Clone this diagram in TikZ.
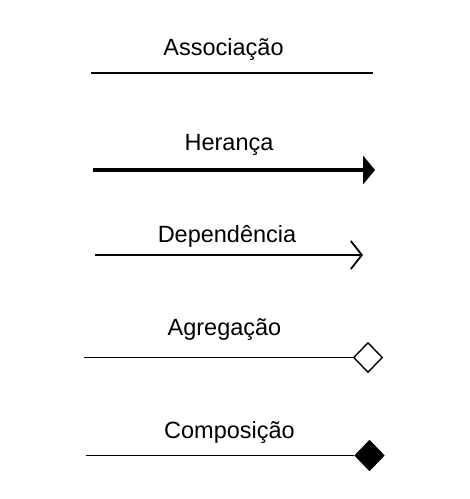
\documentclass[tikz,border=0pt]{standalone}
\usepackage{fontspec}
\setmainfont{Liberation Sans}
\usetikzlibrary{arrows.meta,shapes.geometric}

\begin{document}
\begin{tikzpicture}[x=1pt, y=-1pt]
    \tikzstyle{rotulo}=[anchor=base, font=\fontsize{23.5}{28}\selectfont]
    \tikzstyle{linha}=[line width=1.8pt]
    \tikzstyle{losango}=[diamond, draw, line width=1.4pt, inner sep=0pt, minimum width=29pt, minimum height=30pt]

    \useasboundingbox (0,0) rectangle (470,499);

    % Rótulos
    \node[rotulo] (assoc) at (223.5,55) {Associação};
    \node[rotulo] (heran) at (229,150) {Herança};
    \node[rotulo] (depen) at (227,242) {Dependência};
    \node[rotulo] (agreg) at (224.5,335) {Agregação};
    \node[rotulo] (compo) at (229.5,438) {Composição};

    % Extremidades
    \coordinate (a1) at (91,73);
    \coordinate (a2) at (373,73);
    \coordinate (h1) at (93,170);
    \coordinate (h2) at (375,170);
    \coordinate (d1) at (95,255);
    \coordinate (d2) at (363,255);
    \coordinate (g1) at (84,357.5);
    \coordinate (c1) at (86,455.5);

    % Losangos
    \node[losango, fill=white] (ag) at (368,357.5) {};
    \node[losango, fill=black] (co) at (369.5,455.5) {};

    % Linhas
    \draw[linha] (a1) -- (a2);
    \draw[line width=4pt, -{Triangle[length=12pt,width=29pt,line width=0pt]}] (h1) -- (h2);
    \draw[linha, -{Straight Barb[length=11pt,width=28pt]}] (d1) -- (d2);
    \draw[linha] (g1) -- (ag.west);
    \draw[linha] (c1) -- (co.west);
\end{tikzpicture}
\end{document}
